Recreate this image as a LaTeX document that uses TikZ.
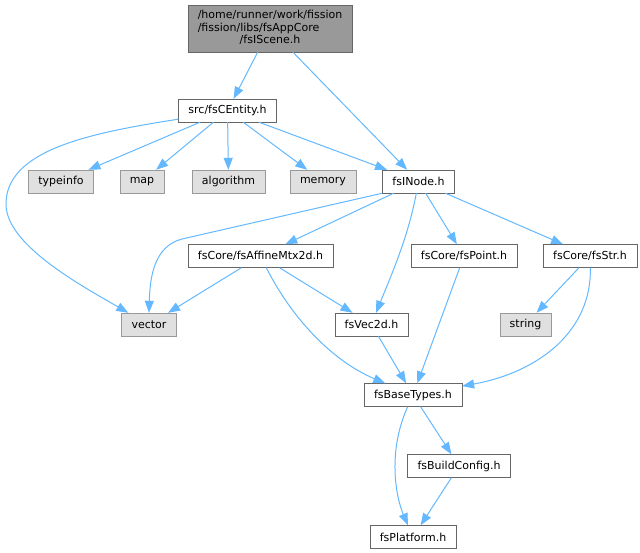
\documentclass[tikz,border=0pt]{standalone}
\usepackage{fontspec}
\setmainfont{DejaVu Sans}
\usepackage{xcolor}
\usepackage{tikz}
\usetikzlibrary{arrows.meta}

\definecolor{edgeblue}{HTML}{63B8FF}
\definecolor{rootfill}{HTML}{999999}
\definecolor{sysfill}{HTML}{E0E0E0}

\begin{document}
\begin{tikzpicture}[
    x=1pt, y=-1pt,
    box/.style={rectangle, draw=black!60, fill=white, minimum height=23pt, inner xsep=10pt, inner ysep=2pt, font=\fontsize{11}{12.5}\selectfont},
    rootbox/.style={box, fill=rootfill, minimum height=47pt},
    sysbox/.style={box, draw=black!40, fill=sysfill},
    arrow/.style={-{Triangle[length=12pt,width=9pt]}, draw=edgeblue, line width=1pt}
]
\useasboundingbox (0,0) rectangle (640,552);

% Root file
\node[rootbox] (root) at (270,28.5) {\begin{tabular}{@{}l@{}}/home/runner/work/fission\\/fission/libs/fsAppCore\\\multicolumn{1}{@{}c@{}}{/fsIScene.h}\end{tabular}};

% Direct includes
\node[box] (entity) at (227.5,110.5) {src/fsCEntity.h};

\node[sysbox] (typeinfo) at (61,181.5) {typeinfo};
\node[sysbox] (map) at (142,181.5) {map};
\node[sysbox] (algorithm) at (228.5,181.5) {algorithm};
\node[sysbox] (memory) at (323,181.5) {memory};
\node[box] (inode) at (418.5,181.5) {fsINode.h};

% fsCore layer
\node[box] (affine) at (260.5,256) {fsCore/fsAffineMtx2d.h};
\node[box] (point) at (464,256) {fsCore/fsPoint.h};
\node[box] (str) at (590,256) {fsCore/fsStr.h};

\node[sysbox] (vector) at (149,324.5) {vector};
\node[box] (vec2d) at (371.5,324.5) {fsVec2d.h};
\node[sysbox] (string) at (525.5,324.5) {string};

% Base layer
\node[box] (base) at (413,395) {fsBaseTypes.h};
\node[box] (config) at (459,466) {fsBuildConfig.h};
\node[box] (platform) at (413,537) {fsPlatform.h};

% Arrows
\draw[arrow] (root) -- (entity);
\draw[arrow] (root) -- (inode);

\draw[arrow] (entity) -- (typeinfo);
\draw[arrow] (entity) -- (map);
\draw[arrow] (entity) -- (algorithm);
\draw[arrow] (entity) -- (memory);
\draw[arrow] (entity) -- (inode);
\draw[arrow] (entity.190) .. controls (90,133) and (5,150) .. (6,205)
    .. controls (7,245) and (80,285) .. ([xshift=7pt]vector.north west);

\draw[arrow] (inode.south west) -- (182,239) .. controls (155,246) and (150,275) .. (vector.north);
\draw[arrow] (inode) -- (affine);
\draw[arrow] (inode) .. controls (408,238) and (390,278) .. (vec2d);
\draw[arrow] (inode) -- (point);
\draw[arrow] (inode) -- (str);

\draw[arrow] (affine) -- (vector);
\draw[arrow] (affine) -- (vec2d);
\draw[arrow] (affine) .. controls (290,315) and (330,360) .. (base);

\draw[arrow] (point) -- (base);
\draw[arrow] (str) -- (string);
\draw[arrow] (str) .. controls (592,330) and (540,372) .. (base);
\draw[arrow] (vec2d) -- (base);

\draw[arrow] (base) -- (config);
\draw[arrow] (base) .. controls (388,450) and (395,495) .. (platform);
\draw[arrow] (config) -- (platform);

\end{tikzpicture}
\end{document}
